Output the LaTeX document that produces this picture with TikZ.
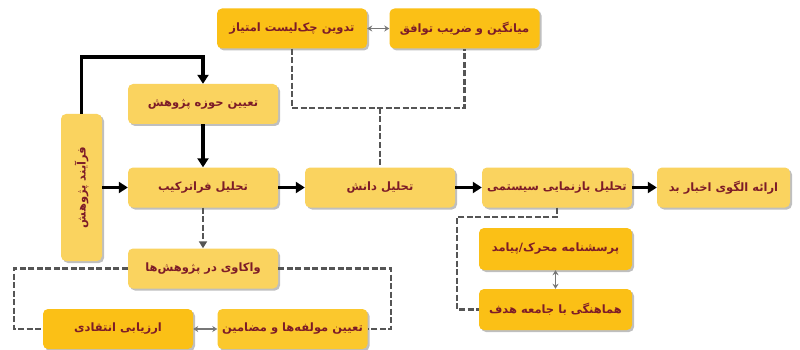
\documentclass[tikz,border=0pt]{standalone}
\usepackage{fontspec}
\newfontfamily\arabicfont[Script=Arabic]{DejaVu Sans}
\TeXXeTstate=1
\usetikzlibrary{arrows.meta,shadows}
\definecolor{lightbox}{RGB}{250,211,95}
\definecolor{darkbox}{RGB}{251,192,22}
\definecolor{midbox}{RGB}{251,200,45}
\definecolor{txt}{RGB}{125,28,40}
\definecolor{dgray}{RGB}{85,85,85}
\newcommand{\fa}[1]{\beginR #1\endR}
\begin{document}
\begin{tikzpicture}[x=1pt,y=-1pt,
  box/.style={rounded corners=5pt, fill=lightbox, draw=none, text=txt,
    font=\arabicfont\bfseries\fontsize{11.5}{13}\selectfont,
    drop shadow={shadow xshift=2pt,shadow yshift=-2pt,opacity=0.25,fill=black},
    inner sep=0pt, minimum width=150pt, minimum height=40pt},
  dbox/.style={box, fill=darkbox},
  blk/.style={line width=3.6pt, -{Triangle[length=9pt,width=11pt]}},
  dsh/.style={dgray, line width=2.6pt, dash pattern=on 6pt off 2.5pt},
  dsharr/.style={dsh, -{Triangle[length=7pt,width=8pt]}},
  dbl/.style={dgray!80, line width=1.6pt, {Stealth[length=5pt,width=6pt]}-{Stealth[length=5pt,width=6pt]}}
]
\useasboundingbox (0,0) rectangle (800,350);
\fill[white] (0,0) rectangle (800,350);

% nodes
\node[dbox] (chk) at (292,28.5) {\fa{تدوین چک‌لیست امتیاز}};
\node[dbox] (avg) at (464.5,28.5) {\fa{میانگین و ضریب توافق}};
\node[box] (scope) at (203,104) {\fa{تعیین حوزه پژوهش}};
\node[box] (fara) at (203,187.5) {\fa{تحلیل فراترکیب}};
\node[box] (danesh) at (380,187.5) {\fa{تحلیل دانش}};
\node[box] (sys) at (557,187.5) {\fa{تحلیل بازنمایی سیستمی}};
\node[box, minimum width=133pt] (bad) at (723.5,187.5) {\fa{ارائه الگوی اخبار بد}};
\node[box, minimum width=41pt, minimum height=147pt] (proc) at (81.5,187.5) {\rotatebox{90}{\fa{فرآیند پژوهش}}};
\node[box] (wak) at (203,268.5) {\fa{واکاوی در پژوهش‌ها}};
\node[box, fill=midbox] (mol) at (292.5,329) {\fa{تعیین مولفه‌ها و مضامین}};
\node[dbox] (arz) at (118,329) {\fa{ارزیابی انتقادی}};
\node[dbox, minimum width=153pt, minimum height=42pt] (por) at (555.5,249) {\fa{پرسشنامه محرک/پیامد}};
\node[dbox, minimum width=153pt, minimum height=41pt] (ham) at (555.5,309.5) {\fa{هماهنگی با جامعه هدف}};

% coordinates
\coordinate (t1) at (81.5,57);
\coordinate (j1) at (380,108);
\coordinate (wl) at (14,268.5);
\coordinate (wr) at (391,268.5);
\coordinate (s1) at (557,217);
\coordinate (s2) at (457,217);

% black flow
\draw[blk] (proc.north) -- (t1) -| (scope.north);
\draw[blk] (scope.south) -- (fara.north);
\draw[blk] (proc.east) -- (fara.west);
\draw[blk] (fara.east) -- (danesh.west);
\draw[blk] (danesh.east) -- (sys.west);
\draw[blk] (sys.east) -- (bad.west);

% dashed connectors
\draw[dsh] (chk.south) -- (chk.south |- j1) -- (avg.south |- j1) -- (avg.south);
\draw[dsh] (j1) -- (danesh.north);
\draw[dsharr] (fara.south) -- (wak.north);
\draw[dsh] (wak.west) -- (wl) |- (arz.west);
\draw[dsh] (wak.east) -- (wr) |- (mol.east);
\draw[dsh] (sys.south) -- (s1) -- (s2) |- (ham.west);

% double arrows
\draw[dbl] (chk.east) -- (avg.west);
\draw[dbl] (arz.east) -- (mol.west);
\draw[dbl] (por.south) -- (ham.north);
\end{tikzpicture}
\end{document}
